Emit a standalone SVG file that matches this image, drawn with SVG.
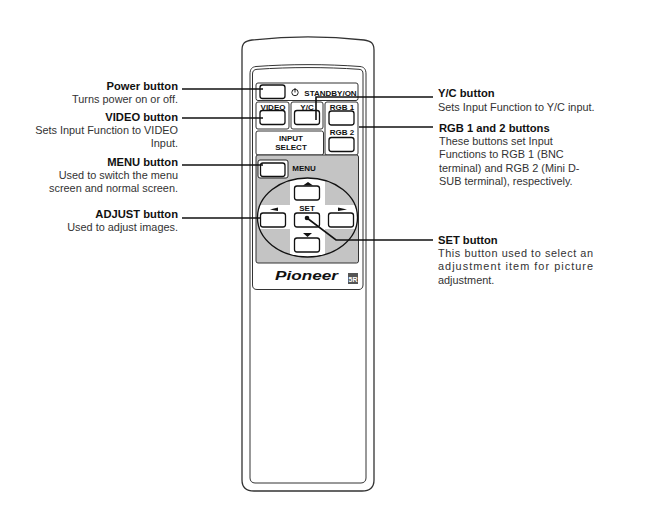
<svg xmlns="http://www.w3.org/2000/svg" width="655" height="532" viewBox="0 0 655 532">
<style>
text{font-family:"Liberation Sans",Arial,sans-serif;fill:#333}
.t{font-size:10.9px}
.b{font-size:11.2px;font-weight:700;fill:#111}
.e{text-anchor:end}
.l{font-size:8px;font-weight:700;fill:#111;text-anchor:middle}
.o{fill:#fff;stroke:#333;stroke-width:1}
.btn{fill:#fff;stroke:#111;stroke-width:1.3}
.c{fill:none;stroke:#111;stroke-width:1.6}
</style>
<defs><clipPath id="el"><ellipse cx="307.500" cy="217.500" rx="50" ry="39.500"/></clipPath></defs>
<rect width="655" height="532" fill="#fff"/>
<g id="remote">
<path class="o" style="stroke-width:1.3" d="M242 50C242 43 245 41 252 40C288 36 328 36 364 40C371 41 374 43 374 50V480C374 487 370 491 362 491H254C246 491 242 487 242 480Z"/>
<path class="o" d="M250 74C250 69 252 67 256 66.500C290 64 326 64 360 66.500C364 67 366 69 366 74V478C366 481 364 483 361 483H255C252 483 250 481 250 478Z"/>
<path class="o" d="M252.500 74C252.500 71 254 69.500 257 69.300C290 67 326 67 359 69.300C362 69.500 363 71 363 74V285C363 288 361 289.500 359 289.500H257C254 289.500 252.500 288 252.500 285Z"/>
</g>
<g id="power-panel">
<rect class="o" x="256" y="83" width="102" height="17.500" rx="2"/>
<rect class="btn" x="260" y="85" width="25" height="13.500" rx="2.500"/>
<circle cx="295" cy="92.500" r="3.200" fill="none" stroke="#222" stroke-width="1"/>
<path d="M295 88V92.500" stroke="#222" stroke-width="1"/>
<text class="l" x="330.500" y="96">STANDBY/ON</text>
</g>
<g id="video">
<rect class="o" x="256" y="102" width="33" height="27" rx="2"/>
<text class="l" x="273" y="110">VIDEO</text>
<rect class="btn" x="260" y="110.500" width="25" height="14" rx="2.500"/>
</g>
<g id="yc">
<rect class="o" x="291" y="102" width="32" height="27" rx="2"/>
<text class="l" x="307" y="110">Y/C</text>
<rect class="btn" x="294.500" y="110.500" width="25" height="14" rx="2.500"/>
</g>
<g id="rgb">
<rect class="o" x="325" y="102" width="33" height="53" rx="2"/>
<text class="l" x="342" y="110">RGB 1</text>
<rect class="btn" x="329" y="111" width="25" height="14" rx="2.500"/>
<text class="l" x="342" y="135">RGB 2</text>
<rect class="btn" x="329" y="137.500" width="25" height="14" rx="2.500"/>
</g>
<g id="input-select">
<rect class="o" x="256" y="131" width="67.500" height="24" rx="2"/>
<text class="l" x="291" y="141">INPUT</text>
<text class="l" x="291" y="150">SELECT</text>
</g>
<g id="menu-panel">
<rect x="256" y="155" width="102.500" height="108" rx="2" fill="#c4c4c4" stroke="#333" stroke-width="1"/>
<rect x="258" y="160" width="30" height="18" rx="2" fill="#fff" stroke="#222" stroke-width="1"/>
<rect class="btn" x="260.500" y="163" width="24.500" height="13.500" rx="2.500"/>
<text class="l" x="304" y="171">MENU</text>
</g>
<g id="adjust">
<ellipse cx="307.500" cy="217.500" rx="50" ry="39.500" fill="#fff"/>
<path d="M255 175H290V205H255ZM325 175H360V205H325ZM255 229H290V260H255ZM325 229H360V260H325Z" fill="#c4c4c4" clip-path="url(#el)"/>
<ellipse cx="307.500" cy="217.500" rx="50" ry="39.500" fill="none" stroke="#111" stroke-width="1.300"/>
<rect class="btn" x="294.500" y="186" width="25" height="14" rx="2.500"/>
<rect class="btn" x="260.500" y="213" width="25" height="14" rx="2.500"/>
<rect class="btn" x="294.500" y="213" width="25" height="14" rx="2.500"/>
<rect class="btn" x="328.500" y="213" width="25" height="14" rx="2.500"/>
<rect class="btn" x="294.500" y="238" width="25" height="14" rx="2.500"/>
<path d="M303 185.500L308 182L313 185.500ZM270 209.500L278 207.500V211ZM338 207.500L347 209.500L338 211ZM303 233H312L307.500 237Z" fill="#111"/>
<text class="l" x="307" y="211">SET</text>
</g>
<g id="brand">
<text x="275" y="279.500" font-size="13" font-weight="700" font-style="italic" textLength="63" lengthAdjust="spacingAndGlyphs" style="fill:#111">Pioneer</text>
<rect x="348" y="273" width="10" height="11" fill="#555"/>
<text x="353" y="282" font-size="7" font-weight="700" text-anchor="middle" style="fill:#fff">5R</text>
</g>
<g id="connectors">
<path class="c" d="M182 89H263"/>
<path class="c" d="M182 118H263"/>
<path class="c" d="M182 165H263"/>
<path class="c" d="M182 218H260"/>
<path class="c" d="M433 97H316V120"/>
<path class="c" d="M359 127H433"/>
<path class="c" d="M307 218L336 240H433"/>
<circle cx="307" cy="218" r="2.300" fill="#111"/>
</g>
<g id="label-power"><text class="b e" x="178" y="90">Power button</text><text class="t e" x="178" y="103">Turns power on or off.</text></g>
<g id="label-video"><text class="b e" x="178" y="121">VIDEO button</text><text class="t e" x="178" y="134">Sets Input Function to VIDEO</text><text class="t e" x="178" y="147">Input.</text></g>
<g id="label-menu"><text class="b e" x="178" y="166">MENU button</text><text class="t e" x="178" y="179">Used to switch the menu</text><text class="t e" x="178" y="192">screen and normal screen.</text></g>
<g id="label-adjust"><text class="b e" x="178" y="218">ADJUST button</text><text class="t e" x="178" y="231">Used to adjust images.</text></g>
<g id="label-yc"><text class="b" x="438" y="97">Y/C button</text><text class="t" x="438" y="111">Sets Input Function to Y/C input.</text></g>
<g id="label-rgb"><text class="b" x="439" y="132">RGB 1 and 2 buttons</text><text class="t" x="439" y="145">These buttons set Input</text><text class="t" x="439" y="158">Functions to RGB 1 (BNC</text><text class="t" x="439" y="172">terminal) and RGB 2 (Mini D-</text><text class="t" x="439" y="185">SUB terminal), respectively.</text></g>
<g id="label-set"><text class="b" x="438" y="244">SET button</text><text class="t" x="438" y="257" textLength="155">This button used to select an</text><text class="t" x="438" y="270" textLength="155">adjustment item for picture</text><text class="t" x="438" y="284">adjustment.</text></g>
</svg>
